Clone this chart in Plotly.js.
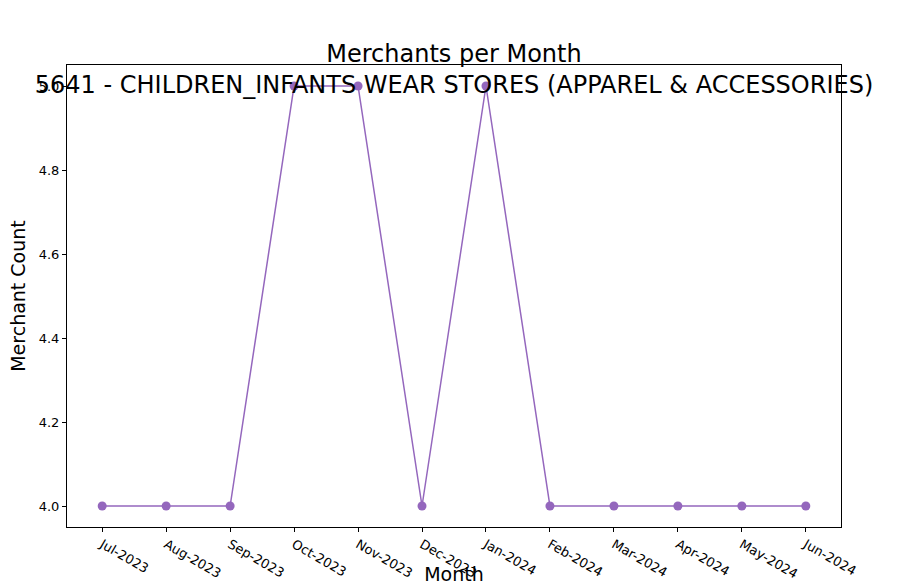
<!DOCTYPE html>
<html>
<head>
<meta charset="utf-8">
<script src="https://cdn.plot.ly/plotly-3.0.1.min.js"></script>
<style>body{margin:0;background:#fff}#chart{width:901px;height:585px}</style>
</head>
<body>
<div id="chart"></div>
<script>
"use strict";

const months = ["Jul-2023", "Aug-2023", "Sep-2023", "Oct-2023", "Nov-2023", "Dec-2023",
    "Jan-2024", "Feb-2024", "Mar-2024", "Apr-2024", "May-2024", "Jun-2024"];
const merchantCounts = [4, 4, 4, 5, 5, 4, 5, 4, 4, 4, 4, 4];
const yTicks = [4.0, 4.2, 4.4, 4.6, 4.8, 5.0];

var trace = {
    x: months.map(function (m, i) { return i; }),
    y: merchantCounts,
    type: 'scatter',
    mode: 'lines+markers',
    line: { color: '#9467bd', width: 1.5 },
    marker: { color: '#9467bd', size: 9 }
};

var layout = {
    width: 901,
    height: 585,
    margin: { l: 67, r: 60, t: 65, b: 58 },
    paper_bgcolor: '#fff',
    plot_bgcolor: '#fff',
    font: { family: 'DejaVu Sans', color: '#000', size: 13 },
    showlegend: false,
    title: {
        text: 'Merchants per Month<br>5641 - CHILDREN_INFANTS WEAR STORES (APPAREL & ACCESSORIES)',
        font: { size: 24 },
        x: 0.5, xanchor: 'center', xref: 'paper',
        y: 1, yanchor: 'bottom', yref: 'paper',
        pad: { b: 3 }
    },
    xaxis: {
        range: [-0.55, 11.55],
        tickvals: months.map(function (m, i) { return i; }),
        ticktext: months,
        ticks: 'outside', ticklen: 4, tickcolor: '#000',
        showgrid: false, zeroline: false,
        showline: true, mirror: true, linecolor: '#000', linewidth: 1,
        tickfont: { size: 13 },
        title: { text: 'Month', font: { size: 19 }, standoff: 4 }
    },
    yaxis: {
        range: [3.95, 5.05],
        tickvals: yTicks,
        ticktext: yTicks.map(function (v) { return v.toFixed(1); }),
        ticks: 'outside', ticklen: 4, tickcolor: '#000',
        showgrid: false, zeroline: false,
        showline: true, mirror: true, linecolor: '#000', linewidth: 1,
        tickfont: { size: 13 },
        title: { text: 'Merchant Count', font: { size: 19 }, standoff: 8 }
    }
};

Plotly.newPlot('chart', [trace], layout, { displayModeBar: false });
</script>
</body>
</html>
